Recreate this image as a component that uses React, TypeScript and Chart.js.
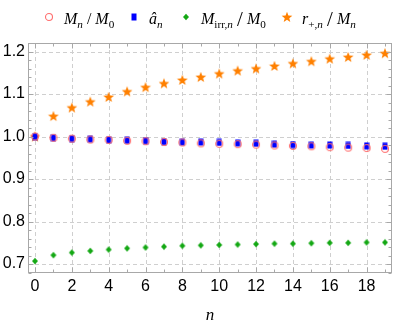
import React, { useEffect, useRef } from 'react';
import { Chart, registerables } from 'chart.js';

Chart.register(...registerables);

// ---------------- data ----------------
const nValues = [0, 1, 2, 3, 4, 5, 6, 7, 8, 9, 10, 11, 12, 13, 14, 15, 16, 17, 18, 19];
const massRatio = [1.0, 0.997, 0.995, 0.993, 0.992, 0.99, 0.989, 0.987, 0.986, 0.984, 0.983, 0.982, 0.981, 0.979, 0.978, 0.977, 0.975, 0.974, 0.973, 0.971];
const spinParam = [1.0, 0.997, 0.995, 0.994, 0.992, 0.991, 0.99, 0.988, 0.987, 0.987, 0.986, 0.985, 0.984, 0.982, 0.981, 0.98, 0.98, 0.979, 0.978, 0.977];
const irrMassRatio = [0.707, 0.721, 0.727, 0.731, 0.734, 0.737, 0.739, 0.741, 0.743, 0.744, 0.745, 0.746, 0.747, 0.748, 0.748, 0.749, 0.75, 0.75, 0.751, 0.751];
const horizonRatio = [1.0, 1.048, 1.068, 1.082, 1.093, 1.106, 1.116, 1.125, 1.133, 1.14, 1.148, 1.155, 1.16, 1.166, 1.172, 1.177, 1.183, 1.187, 1.192, 1.196];
const xTickValues = [0, 2, 4, 6, 8, 10, 12, 14, 16, 18];
const yTickValues = [0.7, 0.8, 0.9, 1.0, 1.1, 1.2];

const RED = '#ff6e6e';
const BLUE = '#0000ff';
const GREEN = '#14a814';
const ORANGE = '#ff8000';
const SERIF = '"Liberation Serif", "Times New Roman", serif';
const SANS = '"Liberation Sans", Arial, sans-serif';

type Seg = { t: string; it?: boolean; sub?: boolean; big?: boolean };

function makeCanvas(w: number, h: number, draw: (c: CanvasRenderingContext2D) => void) {
  const cv = document.createElement('canvas');
  cv.width = w;
  cv.height = h;
  const c = cv.getContext('2d')!;
  draw(c);
  return cv;
}

function starPath(c: CanvasRenderingContext2D, cx: number, cy: number, ro: number, ri: number) {
  c.beginPath();
  for (let i = 0; i < 10; i++) {
    const r = i % 2 === 0 ? ro : ri;
    const a = -Math.PI / 2 + (i * Math.PI) / 5;
    const px = cx + r * Math.cos(a);
    const py = cy + r * Math.sin(a);
    if (i === 0) c.moveTo(px, py);
    else c.lineTo(px, py);
  }
  c.closePath();
}

function makeMarkers() {
  const circle = makeCanvas(10, 10, (c) => {
    c.strokeStyle = RED;
    c.lineWidth = 1.1;
    c.beginPath();
    c.arc(5, 5, 3.5, 0, Math.PI * 2);
    c.stroke();
  });
  const square = makeCanvas(6, 8, (c) => {
    c.fillStyle = BLUE;
    c.fillRect(0.5, 0.5, 5, 7);
  });
  const diamond = makeCanvas(8, 8, (c) => {
    c.fillStyle = GREEN;
    c.beginPath();
    c.moveTo(4, 0.8);
    c.lineTo(7, 4);
    c.lineTo(4, 7.2);
    c.lineTo(1, 4);
    c.closePath();
    c.fill();
  });
  const star = makeCanvas(12, 12, (c) => {
    c.fillStyle = ORANGE;
    starPath(c, 6, 6.4, 5.6, 2.4);
    c.fill();
  });
  return { circle, square, diamond, star };
}

function drawRich(ctx: CanvasRenderingContext2D, segs: Seg[], x: number, y: number, base: number) {
  ctx.textAlign = 'left';
  ctx.textBaseline = 'alphabetic';
  for (const s of segs) {
    const size = s.sub ? base * 0.7 : s.big ? base * 1.3 : base;
    ctx.font = `${s.it ? 'italic ' : ''}${size}px ${SERIF}`;
    const dy = s.sub ? base * 0.25 : s.big ? base * 0.15 : 0;
    ctx.fillText(s.t, x, y + dy);
    x += ctx.measureText(s.t).width;
  }
  return x;
}

const THIN = '\u2009';
const legendLabels: Seg[][] = [
  [{ t: 'M', it: true }, { t: 'n', it: true, sub: true }, { t: ' / ' }, { t: 'M', it: true }, { t: '0', sub: true }],
  [{ t: 'â', it: true }, { t: 'n', it: true, sub: true }],
  [{ t: 'M', it: true }, { t: 'irr,', sub: true }, { t: 'n', it: true, sub: true }, { t: THIN + '/' + THIN, big: true }, { t: 'M', it: true }, { t: '0', sub: true }],
  [{ t: 'r', it: true }, { t: '+,', sub: true }, { t: 'n', it: true, sub: true }, { t: THIN + '/' + THIN, big: true }, { t: 'M', it: true }, { t: 'n', it: true, sub: true }],
];
const legendMarkerX = [49, 134, 186, 287];

export default function App() {
  const ref = useRef<HTMLCanvasElement>(null);

  useEffect(() => {
    const canvas = ref.current;
    if (!canvas) return;
    const mk = makeMarkers();
    const markerList = [mk.circle, mk.square, mk.diamond, mk.star];

    const framePlugin = {
      id: 'frameTicks',
      beforeDatasetsDraw(chart: any) {
        const { ctx, chartArea: a, scales } = chart;
        const x = scales.x;
        const y = scales.y;
        ctx.save();
        ctx.strokeStyle = '#cfcfcf';
        ctx.lineWidth = 1;
        ctx.setLineDash([4, 3]);
        for (const v of xTickValues) {
          const px = Math.round(x.getPixelForValue(v)) + 0.5;
          ctx.beginPath();
          ctx.moveTo(px, a.top);
          ctx.lineTo(px, a.bottom);
          ctx.stroke();
        }
        for (const v of yTickValues) {
          const py = Math.round(y.getPixelForValue(v)) + 0.5;
          ctx.beginPath();
          ctx.moveTo(a.left, py);
          ctx.lineTo(a.right, py);
          ctx.stroke();
        }
        ctx.restore();
      },
      afterDatasetsDraw(chart: any) {
        const { ctx, chartArea: a, scales } = chart;
        const x = scales.x;
        const y = scales.y;
        ctx.save();
        ctx.strokeStyle = '#a8a8a8';
        ctx.lineWidth = 1;
        const L = Math.round(a.left) + 0.5;
        const R = Math.round(a.right) - 0.5;
        const T = Math.round(a.top) + 0.5;
        const B = Math.round(a.bottom) - 0.5;
        ctx.strokeRect(L, T, R - L, B - T);
        ctx.beginPath();
        for (let k = 0; k <= 19; k++) {
          const len = k % 2 === 0 ? 5 : 3;
          const px = Math.round(x.getPixelForValue(k)) + 0.5;
          ctx.moveTo(px, B);
          ctx.lineTo(px, B - len);
          ctx.moveTo(px, T);
          ctx.lineTo(px, T + len);
        }
        for (let k = 34; k <= 61; k++) {
          const v = k * 0.02;
          const len = k % 5 === 0 ? 5 : 3;
          const py = Math.round(y.getPixelForValue(v)) + 0.5;
          ctx.moveTo(L, py);
          ctx.lineTo(L + len, py);
          ctx.moveTo(R, py);
          ctx.lineTo(R - len, py);
        }
        ctx.stroke();

        // axis title
        ctx.fillStyle = '#000';
        ctx.font = `italic 17px ${SERIF}`;
        ctx.textAlign = 'center';
        ctx.textBaseline = 'alphabetic';
        ctx.fillText('n', (a.left + a.right) / 2, 320);

        // legend
        const base = 16;
        const my = 17;
        legendLabels.forEach((segs, i) => {
          const img = markerList[i];
          const mx = legendMarkerX[i];
          ctx.drawImage(img, mx - img.width / 2, my - img.height / 2);
          ctx.fillStyle = '#000';
          drawRich(ctx, segs, mx + 15, 23.5, base);
        });
        ctx.restore();
      },
    };

    const pts = (arr: number[]) => nValues.map((n, i) => ({ x: n, y: arr[i] }));

    const chart = new Chart(canvas, {
      type: 'scatter',
      data: {
        datasets: [
          { label: 'Mn/M0', data: pts(massRatio), pointStyle: mk.circle as any, pointRadius: 5 },
          { label: 'an', data: pts(spinParam), pointStyle: mk.square as any, pointRadius: 4 },
          { label: 'Mirr', data: pts(irrMassRatio), pointStyle: mk.diamond as any, pointRadius: 4 },
          { label: 'r+', data: pts(horizonRatio), pointStyle: mk.star as any, pointRadius: 6 },
        ],
      },
      options: {
        animation: false,
        responsive: false,
        maintainAspectRatio: false,
        events: [],
        layout: { padding: { top: 43, right: 1, left: 0, bottom: 0 } },
        plugins: { legend: { display: false }, tooltip: { enabled: false } },
        scales: {
          x: {
            type: 'linear',
            min: -0.38,
            max: 19.38,
            grid: { display: false, drawTicks: false, tickLength: 0 },
            border: { display: false },
            afterBuildTicks: (s: any) => {
              s.ticks = xTickValues.map((v) => ({ value: v }));
            },
            afterFit: (s: any) => {
              s.height = 57;
            },
            ticks: {
              autoSkip: false,
              maxRotation: 0,
              padding: 4,
              color: '#000',
              font: { family: SANS, size: 16 },
              callback: (v: any) => String(v),
            },
          },
          y: {
            type: 'linear',
            min: 0.679,
            max: 1.22,
            grid: { display: false, drawTicks: false, tickLength: 0 },
            border: { display: false },
            afterBuildTicks: (s: any) => {
              s.ticks = yTickValues.map((v) => ({ value: v }));
            },
            afterFit: (s: any) => {
              s.width = 28;
            },
            ticks: {
              autoSkip: false,
              padding: 3,
              color: '#000',
              font: { family: SANS, size: 16 },
              callback: (v: any) => Number(v).toFixed(1),
            },
          },
        },
      },
      plugins: [framePlugin],
    });
    return () => chart.destroy();
  }, []);

  return (
    <div style={{ position: 'absolute', left: 0, top: 0, width: 399, height: 330, background: '#fff' }}>
      <canvas ref={ref} width={399} height={330} style={{ width: 399, height: 330, display: 'block' }} />
    </div>
  );
}
